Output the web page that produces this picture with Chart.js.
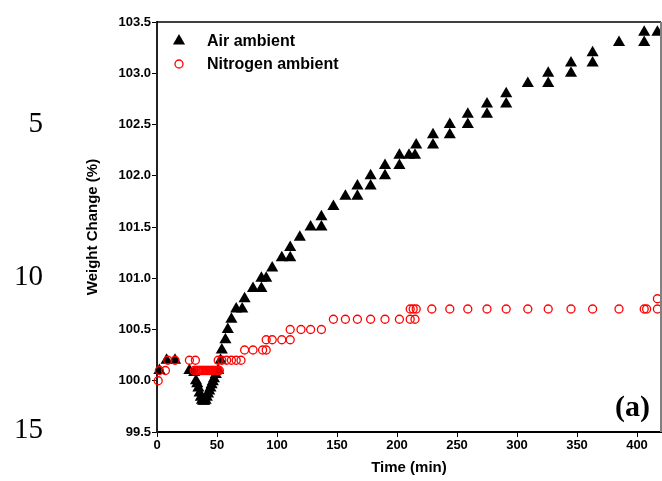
<!DOCTYPE html>
<html lang="en">
<head>
    <meta charset="UTF-8">
    <title>Weight Change vs Time</title>
    <script src="https://cdn.jsdelivr.net/npm/chart.js"></script>
    <style>
        body, html {
            margin: 0;
            padding: 0;
            background: #fff;
            overflow: hidden;
        }
        #wrap {
            width: 662px;
            height: 481px;
            position: relative;
        }
    </style>
</head>
<body>
    <div id="wrap"><canvas id="tgaChart"></canvas></div>

    <script>
        // Air ambient (triangles)
        const airTime = [2, 8, 15, 27, 31, 32.5, 33.5, 34.5, 35.5, 36.5, 37.5, 38.5, 39.5, 40.5, 41.5, 42.5, 43.5, 44.5, 45.5, 46.5, 47.5, 49, 51, 53,
            54, 57, 59, 62, 66, 71, 73, 80, 87, 87, 91, 96, 104, 111, 111, 119, 128, 137, 137, 147, 157, 167, 167, 178, 178,
            190, 190, 202, 202, 210, 215, 216, 230, 230, 244, 244, 259, 259, 275, 275, 291, 291, 309, 326, 326, 345, 345,
            363, 363, 385, 406, 406, 417];
        const airWeight = [100.1, 100.2, 100.2, 100.1, 100.08, 100.0, 99.97, 99.93, 99.88, 99.84, 99.81, 99.8, 99.8, 99.81, 99.84, 99.87, 99.9, 99.93, 99.96, 99.99, 100.02, 100.06, 100.1, 100.2,
            100.3, 100.4, 100.5, 100.6, 100.7, 100.7, 100.8, 100.9, 100.9, 101.0, 101.0, 101.1, 101.2, 101.2, 101.3, 101.4, 101.5, 101.5, 101.6, 101.7, 101.8, 101.8, 101.9, 101.9, 102.0,
            102.0, 102.1, 102.1, 102.2, 102.2, 102.2, 102.3, 102.3, 102.4, 102.4, 102.5, 102.5, 102.6, 102.6, 102.7, 102.7, 102.8, 102.9, 102.9, 103.0, 103.0, 103.1,
            103.1, 103.2, 103.3, 103.3, 103.4, 103.4];

        // Nitrogen ambient (open circles)
        const n2Time = [1, 2, 7, 9, 15, 27, 32,
            31, 32.5, 34, 35, 36, 37, 38, 39, 40, 41, 42, 43, 44, 45, 46, 47, 48, 49, 50, 51, 52,
            51, 54, 58, 62, 66, 70,
            73, 80, 88, 91,
            91, 96, 104, 111,
            111, 120, 128, 137,
            147, 157, 167, 178, 190, 202, 211, 215,
            211, 213.5, 216, 229, 244, 259, 275, 291, 309, 326, 345, 363, 385, 406, 408, 417,
            417];
        const n2Weight = [100.0, 100.1, 100.1, 100.2, 100.2, 100.2, 100.2,
            100.1, 100.1, 100.1, 100.1, 100.1, 100.1, 100.1, 100.1, 100.1, 100.1, 100.1, 100.1, 100.1, 100.1, 100.1, 100.1, 100.1, 100.1, 100.1, 100.1, 100.1,
            100.2, 100.2, 100.2, 100.2, 100.2, 100.2,
            100.3, 100.3, 100.3, 100.3,
            100.4, 100.4, 100.4, 100.4,
            100.5, 100.5, 100.5, 100.5,
            100.6, 100.6, 100.6, 100.6, 100.6, 100.6, 100.6, 100.6,
            100.7, 100.7, 100.7, 100.7, 100.7, 100.7, 100.7, 100.7, 100.7, 100.7, 100.7, 100.7, 100.7, 100.7, 100.7, 100.7,
            100.8];

        const seriesNames = ['Air ambient', 'Nitrogen ambient'];
        const lineNumbers = ['5', '10', '15'];

        const toPoints = (xs, ys) => xs.map((x, i) => ({ x: x, y: ys[i] }));

        Chart.defaults.font.family = "'Liberation Sans', Arial, sans-serif";
        Chart.defaults.color = '#000';

        // frame, inline legend, panel label and manuscript line numbers
        const extras = {
            id: 'extras',
            afterDatasetsDraw(chart) {
                const { ctx, chartArea: a } = chart;
                ctx.save();
                ctx.strokeStyle = '#000';
                ctx.lineWidth = 1.5;
                ctx.beginPath();
                ctx.moveTo(a.left, a.top);
                ctx.lineTo(a.right, a.top);
                ctx.stroke();
                ctx.strokeStyle = '#808080';
                ctx.lineWidth = 2;
                ctx.beginPath();
                ctx.moveTo(a.right, a.top);
                ctx.lineTo(a.right, a.bottom);
                ctx.stroke();

                // legend: air first, then nitrogen
                const ds = chart.data.datasets.slice().reverse();
                ctx.font = "bold 16px 'Liberation Sans', Arial, sans-serif";
                ctx.textBaseline = 'middle';
                ctx.textAlign = 'left';
                ds.forEach((d, i) => {
                    const y = a.top + 19 + i * 23;
                    ctx.fillStyle = d.backgroundColor;
                    ctx.strokeStyle = d.borderColor;
                    ctx.lineWidth = d.borderWidth;
                    Chart.helpers.drawPoint(ctx, {
                        pointStyle: d.pointStyle,
                        radius: d.pointRadius,
                        borderWidth: d.borderWidth
                    }, a.left + 22, y);
                    ctx.fillStyle = '#000';
                    ctx.fillText(d.label, a.left + 50, y + 1);
                });

                // panel label
                ctx.font = "bold 30px 'Liberation Serif', 'Times New Roman', serif";
                ctx.textAlign = 'right';
                ctx.fillText('(a)', a.right - 11, a.bottom - 24);

                // manuscript line numbers
                ctx.font = "29px 'Liberation Serif', 'Times New Roman', serif";
                ctx.textAlign = 'right';
                const ys = [124, 277, 430];
                lineNumbers.forEach((t, i) => ctx.fillText(t, 43, ys[i]));
                ctx.restore();
            }
        };

        const ctx = document.getElementById('tgaChart').getContext('2d');
        new Chart(ctx, {
            type: 'scatter',
            data: {
                datasets: [
                    {
                        label: seriesNames[1],
                        data: toPoints(n2Time, n2Weight),
                        pointStyle: 'circle',
                        pointRadius: 4,
                        borderWidth: 1.3,
                        borderColor: '#ff0000',
                        backgroundColor: 'rgba(255,255,255,0)',
                        clip: false
                    },
                    {
                        label: seriesNames[0],
                        data: toPoints(airTime, airWeight),
                        pointStyle: 'triangle',
                        pointRadius: 7,
                        borderWidth: 0,
                        borderColor: '#000',
                        backgroundColor: '#000',
                        clip: false
                    }
                ]
            },
            options: {
                animation: false,
                responsive: true,
                maintainAspectRatio: false,
                layout: { autoPadding: false, padding: { left: 80, top: 22, right: 1, bottom: 0 } },
                scales: {
                    x: {
                        type: 'linear',
                        min: 0,
                        max: 420,
                        afterFit: s => { s.height = 49; },
                        border: { color: '#000', width: 2 },
                        grid: { drawOnChartArea: false, tickLength: 5, color: '#000' },
                        ticks: { stepSize: 50, includeBounds: false, padding: 1, font: { size: 13, weight: 'bold' } },
                        title: { display: true, text: 'Time (min)', font: { size: 15, weight: 'bold' }, padding: { top: 2, bottom: 4 } }
                    },
                    y: {
                        min: 99.5,
                        max: 103.5,
                        afterFit: s => { s.width = 77; },
                        border: { color: '#222', width: 2 },
                        grid: { drawOnChartArea: false, tickLength: 5, color: '#000' },
                        ticks: { stepSize: 0.5, padding: 1, font: { size: 13, weight: 'bold' }, callback: v => Number(v).toFixed(1) },
                        title: { display: true, text: 'Weight Change (%)', font: { size: 15, weight: 'bold' }, padding: { top: 4, bottom: 4 } }
                    }
                },
                plugins: {
                    legend: { display: false },
                    tooltip: { enabled: false }
                }
            },
            plugins: [extras]
        });
    </script>
</body>
</html>
